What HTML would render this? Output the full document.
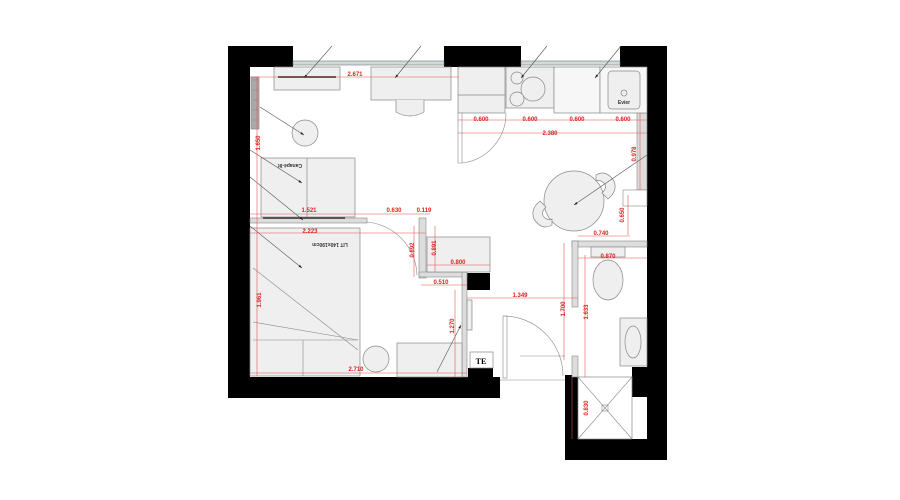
<!DOCTYPE html>
<html><head><meta charset="utf-8"><style>
html,body{margin:0;padding:0;background:#fff;}
svg{display:block;}
text{font-family:"Liberation Sans",sans-serif;font-weight:bold;}
</style></head><body>
<svg width="900" height="500" viewBox="0 0 900 500" xmlns="http://www.w3.org/2000/svg">
<defs><marker id="a" markerWidth="6" markerHeight="4" refX="6" refY="2" orient="auto"><path d="M0 0 L6 2 L0 4z" fill="#222"/></marker></defs>
<rect width="900" height="500" fill="#fff"/>
<g fill="#000">
<rect x="228" y="46" width="65" height="21"/>
<rect x="228" y="46" width="22" height="352"/>
<rect x="444" y="46" width="77" height="21"/>
<rect x="620" y="46" width="47" height="21"/>
<rect x="647" y="46" width="20" height="414"/>
<rect x="228" y="377" width="272" height="21"/>
<rect x="468" y="368" width="25" height="9"/>
<rect x="467" y="273" width="23" height="17"/>
<rect x="632" y="367" width="15" height="30"/>
<rect x="565" y="375" width="13" height="85"/>
<rect x="565" y="439" width="102" height="21"/>
</g>
<g fill="#cfdadf" stroke="#777" stroke-width="0.6">
<rect x="293" y="61" width="151" height="4"/>
<rect x="521" y="61" width="99" height="4"/>
</g>
<g fill="#ddd" stroke="#888" stroke-width="0.6">
<rect x="250" y="218" width="117" height="5"/>
<rect x="419" y="218" width="7" height="60"/>
<rect x="419" y="272" width="48" height="5"/>
<rect x="462" y="272" width="5" height="105"/>
<rect x="637" y="113" width="10" height="77"/>
<rect x="572" y="241" width="75" height="6"/>
<rect x="572" y="241" width="6" height="66"/>
<rect x="572" y="356" width="6" height="21"/>
<rect x="623" y="190" width="24" height="16" fill="#fff"/>
</g>
<g fill="#efefef" stroke="#888" stroke-width="0.7">
<rect x="274" y="67" width="66" height="23"/>
<rect x="371" y="67" width="80" height="33"/>
<path d="M396 100 v12 q14 8 28 0 v-12"/>
<rect x="251" y="77" width="8" height="52" fill="#aaa"/>
<circle cx="305" cy="133" r="13"/>
<rect x="261" y="158" width="94" height="59"/>
<line x1="307" y1="158" x2="307" y2="217"/>
<rect x="250" y="228" width="110" height="148"/>
<rect x="458" y="67" width="47" height="46"/>
<line x1="458" y1="95" x2="505" y2="95"/>
<rect x="506" y="67" width="48" height="41"/>
<circle cx="517" cy="78" r="6"/><circle cx="533" cy="89" r="12"/><circle cx="517" cy="99" r="7"/>
<rect x="554" y="67" width="46" height="46" fill="#f7f7f7"/>
<rect x="600" y="67" width="47" height="46" fill="#f7f7f7"/>
<rect x="608" y="71" width="32" height="38" rx="4"/>
<circle cx="624" cy="93" r="3"/>
<circle cx="574" cy="201" r="30"/>
<path d="M596 175 q10 -6 18 6 q4 10 -6 18 l-6 -6 q6 -6 2 -10 q-4 -4 -8 -2z"/>
<path d="M552 225 q-10 6 -18 -6 q-4 -10 6 -18 l6 6 q-6 6 -2 10 q4 4 8 2z"/>
<rect x="427" y="237" width="63" height="35"/>
<rect x="397" y="343" width="65" height="34"/>
<circle cx="376" cy="359" r="13"/>
<rect x="470" y="352" width="23" height="16" fill="#fff"/>
<rect x="591" y="247" width="34" height="10"/>
<ellipse cx="608" cy="280" rx="15" ry="20"/>
<rect x="620" y="318" width="27" height="48"/>
<ellipse cx="633" cy="342" rx="8" ry="16"/>
<rect x="578" y="377" width="54" height="62" fill="#fff"/>
<rect x="467" y="300" width="5" height="30"/>
</g>
<g stroke="#888" stroke-width="0.6" fill="none">
<line x1="578" y1="377" x2="632" y2="439"/><line x1="632" y1="377" x2="578" y2="439"/>
<rect x="602" y="405" width="6" height="6"/>
<path d="M458 113 v50 h4 v-50"/>
<path d="M462 163 A50 50 0 0 0 506 113"/>
<path d="M367 222 A55 55 0 0 1 417 275"/>
<rect x="503" y="316" width="4" height="62"/>
<path d="M503 316 A60 60 0 0 1 563 376"/>
<path d="M520 356 h45"/>
<line x1="500" y1="380" x2="565" y2="380"/>
<line x1="263" y1="218" x2="345" y2="218" stroke="#555" stroke-width="2"/>
<line x1="278" y1="77" x2="336" y2="77" stroke="#555" stroke-width="2"/>
<line x1="253" y1="322" x2="358" y2="340"/>
<line x1="253" y1="340" x2="358" y2="340"/>
<line x1="303" y1="340" x2="303" y2="376"/>
<line x1="253" y1="268" x2="358" y2="350"/>
<line x1="253" y1="80" x2="258" y2="80"/><line x1="253" y1="90" x2="258" y2="90"/><line x1="253" y1="100" x2="258" y2="100"/><line x1="253" y1="110" x2="258" y2="110"/><line x1="253" y1="120" x2="258" y2="120"/>
</g>
<g stroke="#555" stroke-width="0.6" marker-end="url(#a)">
<line x1="332" y1="46" x2="304" y2="78"/>
<line x1="421" y1="46" x2="395" y2="78"/>
<line x1="547" y1="46" x2="521" y2="78"/>
<line x1="621" y1="46" x2="595" y2="78"/>
<line x1="260" y1="107" x2="304" y2="135"/>
<line x1="250" y1="150" x2="302" y2="183"/>
<line x1="250" y1="177" x2="303" y2="220"/>
<line x1="250" y1="226" x2="302" y2="268"/>
<line x1="647" y1="155" x2="574" y2="205"/>
<line x1="437" y1="372" x2="461" y2="325"/>
</g>
<g stroke="#e05555" stroke-width="0.6" fill="none">
<line x1="250" y1="77" x2="459" y2="77"/>
<line x1="257" y1="77" x2="257" y2="376"/>
<line x1="458" y1="120" x2="647" y2="120"/>
<line x1="458" y1="133" x2="647" y2="133"/>
<line x1="250" y1="214" x2="430" y2="214"/>
<line x1="250" y1="233" x2="425" y2="233"/>
<line x1="414" y1="226" x2="414" y2="277"/>
<line x1="435" y1="226" x2="435" y2="272"/>
<line x1="427" y1="265" x2="490" y2="265"/>
<line x1="421" y1="285" x2="467" y2="285"/>
<line x1="467" y1="298" x2="578" y2="298"/>
<line x1="564" y1="243" x2="564" y2="360"/>
<line x1="585" y1="255" x2="585" y2="377"/>
<line x1="578" y1="258" x2="647" y2="258"/>
<line x1="578" y1="236" x2="630" y2="236"/>
<line x1="628" y1="195" x2="628" y2="235"/>
<line x1="640" y1="113" x2="640" y2="190"/>
<line x1="250" y1="373" x2="467" y2="373"/>
<line x1="455" y1="290" x2="455" y2="377"/>
<line x1="572" y1="377" x2="572" y2="439"/>
</g>
<g fill="#d22" font-size="6" text-anchor="middle">
<text x="355" y="76">2.671</text>
<text x="481" y="121">0.600</text>
<text x="530" y="121">0.600</text>
<text x="577" y="121">0.600</text>
<text x="623" y="121">0.600</text>
<text x="550" y="135">2.380</text>
<text x="309" y="212">1.521</text>
<text x="394" y="212">0.630</text>
<text x="424" y="212">0.119</text>
<text x="310" y="233">2.223</text>
<text x="458" y="264">0.800</text>
<text x="441" y="284">0.510</text>
<text x="520" y="297">1.349</text>
<text x="608" y="258">0.870</text>
<text x="601" y="235">0.740</text>
<text x="356" y="371">2.710</text>
<text transform="translate(260,143) rotate(-90)">1.650</text>
<text transform="translate(261,300) rotate(-90)">1.961</text>
<text transform="translate(414,250) rotate(-90)">0.892</text>
<text transform="translate(436,248) rotate(-90)">0.891</text>
<text transform="translate(454,326) rotate(-90)">1.270</text>
<text transform="translate(565,309) rotate(-90)">1.700</text>
<text transform="translate(588,312) rotate(-90)">1.633</text>
<text transform="translate(624,215) rotate(-90)">0.650</text>
<text transform="translate(636,154) rotate(-90)">0.978</text>
<text transform="translate(588,408) rotate(-90)">0.830</text>
</g>
<g fill="#333" font-size="5" text-anchor="middle">
<text transform="translate(290,164) rotate(180)">Canapé-lit</text>
<text transform="translate(330,243) rotate(180)">LIT 140x190cm</text>
<text x="624" y="104">Evier</text>
</g>
<text x="481" y="364" font-size="8" text-anchor="middle" fill="#000" style="font-family:'Liberation Serif',serif">TE</text>
</svg>
</body></html>
